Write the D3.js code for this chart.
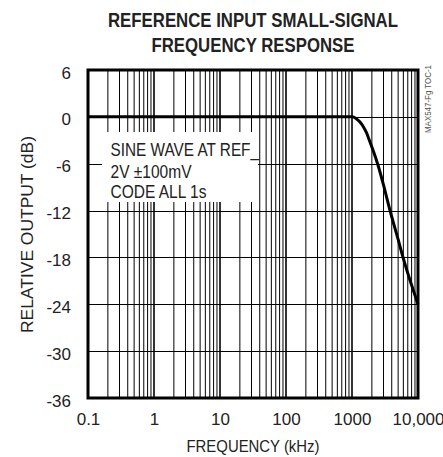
<!DOCTYPE html>
<html>
<head>
<meta charset="utf-8">
<script src="https://cdn.jsdelivr.net/npm/d3@7"></script>
<style>
  html, body { margin: 0; padding: 0; background: #fff; }
  svg { display: block; }
  text { font-family: "Liberation Sans", Arial, Helvetica, sans-serif; fill: #222; }
</style>
</head>
<body>
<svg id="chart" width="443" height="457"></svg>
<script>
// ---- data ----
const titleLines = ["REFERENCE INPUT SMALL-SIGNAL", "FREQUENCY RESPONSE"];
const xLabel = "FREQUENCY (kHz)";
const yLabel = "RELATIVE OUTPUT (dB)";
const noteLines = ["SINE WAVE AT REF_", "2V \u00b1100mV", "CODE ALL 1s"];
const figId = "MAX547-Fg TOC-1";
const xTickValues = [0.1, 1, 10, 100, 1000, 10000];
const xTickLabels = ["0.1", "1", "10", "100", "1000", "10,000"];
const yTickValues = [6, 0, -6, -12, -18, -24, -30, -36];
const freqKHz = [0.1, 1, 10, 100, 1000, 1150, 1300, 1470, 1650, 1870, 2150, 2480, 3000, 3770, 5000, 5930, 10000];
const gainDB  = [0, 0, 0, 0, 0, -0.2, -0.6, -1.2, -2.0, -3.2, -4.6, -6.2, -8.7, -12, -15.7, -18, -24];

// ---- layout ----
const svg = d3.select("#chart");
const L = 88, R = 418, T = 70, B = 398;
const x = d3.scaleLog().domain([0.1, 10000]).range([L, R]);
const y = d3.scaleLinear().domain([-36, 6]).range([B, T]);

// title (condensed bold)
svg.append("g").selectAll("text").data(titleLines).join("text")
  .attr("transform", (d, i) => `translate(253,${26.5 + i * 25}) scale(0.84,1)`)
  .attr("text-anchor", "middle")
  .attr("font-size", 20).attr("font-weight", "bold")
  .text(d => d);

// grid: vertical minor + major lines
const vLines = [];
for (let e = -1; e < 4; e++) {
  for (let m = 1; m <= 9; m++) {
    const v = m * Math.pow(10, e);
    if (v > 0.1 && v < 10000) vLines.push({ v, major: m === 1 });
  }
}
const grid = svg.append("g");
grid.selectAll("line.v").data(vLines).join("line")
  .attr("class", "v")
  .attr("x1", d => x(d.v)).attr("x2", d => x(d.v))
  .attr("y1", T).attr("y2", B)
  .attr("stroke", "#000")
  .attr("stroke-width", d => d.major ? 1.6 : 1);
grid.selectAll("line.h").data(yTickValues.filter(v => v > -36 && v < 6)).join("line")
  .attr("class", "h")
  .attr("x1", L).attr("x2", R)
  .attr("y1", d => Math.round(y(d)) + 0.5).attr("y2", d => Math.round(y(d)) + 0.5)
  .attr("stroke", "#000").attr("stroke-width", 1);

// note box (white background over grid)
svg.append("rect").attr("x", 102).attr("y", 132).attr("width", 156).attr("height", 70)
  .attr("fill", "#fff");
svg.append("g").selectAll("text").data(noteLines).join("text")
  .attr("x", 110.5).attr("y", (d, i) => [156, 178, 198][i])
  .attr("font-size", 19)
  .attr("textLength", (d, i) => [148.5, 81, 96][i])
  .attr("lengthAdjust", "spacingAndGlyphs")
  .text(d => d);

// curve
const line = d3.line().x((d, i) => x(freqKHz[i])).y(d => y(d)).curve(d3.curveMonotoneX);
svg.append("path").datum(gainDB)
  .attr("d", line)
  .attr("fill", "none").attr("stroke", "#000").attr("stroke-width", 3)
  .attr("stroke-linejoin", "round");

// frame
svg.append("rect").attr("x", L).attr("y", T).attr("width", R - L).attr("height", B - T)
  .attr("fill", "none").attr("stroke", "#000").attr("stroke-width", 3);

// axes (labels only)
const xAxis = d3.axisBottom(x).tickValues(xTickValues)
  .tickFormat((d, i) => xTickLabels[i]).tickSize(0).tickPadding(0);
const gx = svg.append("g").attr("transform", `translate(0,${B})`).call(xAxis);
gx.select(".domain").remove();
gx.selectAll("text").attr("y", 27).attr("dy", null)
  .attr("font-size", 17).attr("fill", "#222");
gx.attr("font-family", null).attr("font-size", null);

const yAxis = d3.axisLeft(y).tickValues(yTickValues).tickFormat(d3.format("d")).tickSize(0).tickPadding(0);
const gy = svg.append("g").attr("transform", `translate(71,0)`).call(yAxis);
gy.select(".domain").remove();
gy.selectAll("text").attr("x", 0).attr("dy", null).attr("y", 8)
  .attr("font-size", 17).attr("fill", "#222")
  .text(d => d < 0 ? "-" + Math.abs(d) : String(d));
gy.attr("font-family", null).attr("font-size", null);

// axis titles
svg.append("text").attr("x", 253).attr("y", 452)
  .attr("text-anchor", "middle").attr("font-size", 16)
  .attr("textLength", 133).attr("lengthAdjust", "spacingAndGlyphs")
  .text(xLabel);
svg.append("text").attr("transform", "translate(33,234.5) rotate(-90)")
  .attr("text-anchor", "middle").attr("font-size", 16)
  .attr("textLength", 197).attr("lengthAdjust", "spacingAndGlyphs")
  .text(yLabel);

// figure id
svg.append("text").attr("transform", "translate(431,99) rotate(-90)")
  .attr("text-anchor", "middle").attr("font-size", 9)
  .attr("textLength", 68).attr("lengthAdjust", "spacingAndGlyphs")
  .style("fill", "#555")
  .text(figId);
</script>
</body>
</html>
